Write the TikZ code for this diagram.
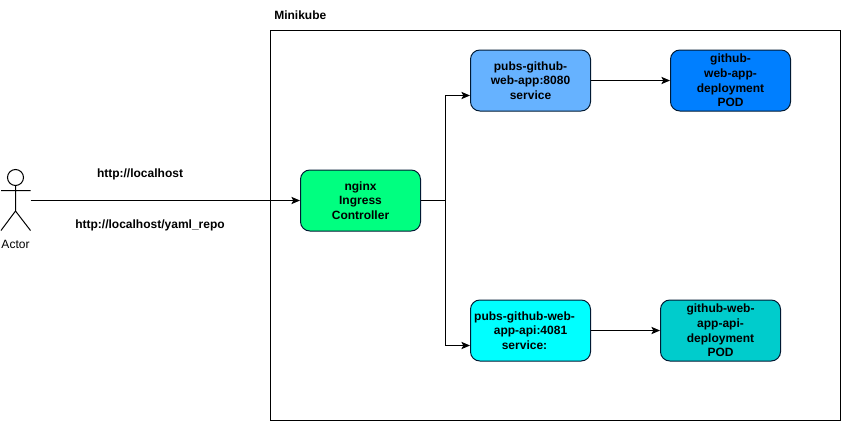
\documentclass[tikz,border=0pt]{standalone}
\usepackage{fontspec}
\setmainfont{Liberation Sans}
\usepackage{xcolor}
\usetikzlibrary{positioning,arrows.meta}
\definecolor{nginxgreen}{HTML}{00FF80}
\definecolor{svcblue}{HTML}{66B2FF}
\definecolor{podblue}{HTML}{007FFF}
\definecolor{svccyan}{HTML}{00FFFF}
\definecolor{podcyan}{HTML}{00CCCC}
\definecolor{edgedark}{HTML}{001933}
\tikzset{
  box/.style={draw=edgedark, line width=0.75pt, rounded corners=7pt, align=center,
    minimum width=90pt, minimum height=45.75pt, inner sep=0pt,
    font=\fontsize{9}{10.9}\selectfont\bfseries},
  caption/.style={font=\fontsize{9}{10.9}\selectfont\bfseries, inner sep=0pt},
  link/.style={->, line width=0.75pt}
}
\newcommand\pushleft{\hspace*{9pt}}

\begin{document}
\begin{tikzpicture}[x=0.75pt, y=-0.75pt, >={Stealth[length=6.5pt, width=5.5pt, inset=1.5pt]}]
    \useasboundingbox (0,0) rectangle (841,421);
    \node [draw, line width=0.75pt, minimum width=427.5pt, minimum height=292.5pt, inner sep=0pt]
      (minikube) at (555,225) {};
    \node [caption, anchor=west] (minikubelabel) at (274,15.5) {Minikube};
    % actor
    \draw [line width=0.75pt] (15.5,177.5) circle (8)
      (15.5,185.5) -- (15.5,211)
      (1,190.5) -- (30.5,190.5)
      (1,230.5) -- (15.5,211) -- (30.5,230.5);
    \node [font=\fontsize{9}{10.9}\selectfont, inner sep=0pt] (actor) at (15.5,244) {Actor};
    \coordinate (hand) at (30.5,200.5);
    \node [box, fill=nginxgreen] (nginx) at (360.5,200.5)
      {nginx \\ Ingress \\ Controller};
    \node [box, fill=svcblue] (webapp) at (530.5,80.5)
      {pubs-github- \\ web-app:8080 \\ service};
    \node [box, fill=podblue, right=59.25pt of webapp] (webpod)
      {github- \\ web-app- \\ deployment \\ POD};
    \node [box, fill=svccyan] (webapi) at (530.5,330.5)
      {pubs-github-web-\pushleft \\ app-api:4081\pushleft \\ service:\pushleft};
    \node [box, fill=podcyan, right=51.75pt of webapi] (apipod)
      {github-web- \\ app-api- \\ deployment \\ POD};
    \node [caption] (urlroot) at (140,174.5) {http://localhost};
    \node [caption] (urlrepo) at (150,225.5) {http://localhost/yaml\_repo};
    \coordinate (fork) at (445,200.5);
    \coordinate (webin) at (470,95.5);
    \coordinate (apiin) at (470,345.5);
    \draw [link] (hand) -- (nginx);
    \draw [line width=0.75pt] (nginx) -- (fork);
    \draw [link] (fork) |- (webin);
    \draw [link] (fork) |- (apiin);
    \draw [link] (webapp) -- (webpod);
    \draw [link] (webapi) -- (apipod);
\end{tikzpicture}
\end{document}
